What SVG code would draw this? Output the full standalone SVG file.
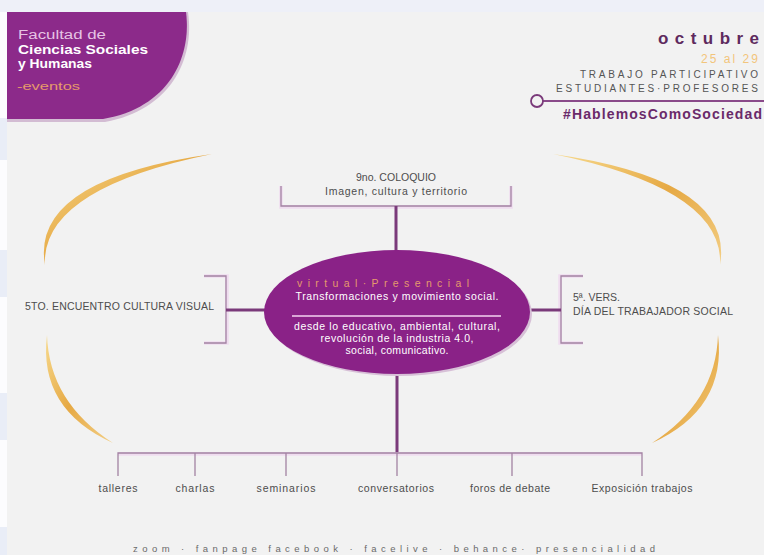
<svg xmlns="http://www.w3.org/2000/svg" width="764" height="555" viewBox="0 0 764 555">
<defs>
<style>
.lbl{font-family:"Liberation Sans",Arial,sans-serif;font-size:10.5px;fill:#4d4d4d}
.in{font-family:"Liberation Sans",Arial,sans-serif;font-size:10.5px;fill:#ffffff}
.stem{stroke:#7a3a7a;stroke-width:3;fill:none}
.glow{stroke:#efdcef;stroke-width:3.5;fill:none}
.br{stroke:#a283a2;stroke-width:1.3;fill:none}
.arc{fill:url(#gold)}
.hd{font-family:"Liberation Sans",Arial,sans-serif}
</style>
<linearGradient id="gold" x1="0" y1="0" x2="1" y2="1">
<stop offset="0" stop-color="#f7da8e"/>
<stop offset="0.5" stop-color="#e6a944"/>
<stop offset="1" stop-color="#f3cf86"/>
</linearGradient>
</defs>

<!-- background -->
<rect width="764" height="555" fill="#f2f2f2"/>
<rect width="764" height="12" fill="#eef0f8"/>
<rect x="0" y="12" width="7" height="543" fill="#fcfcfe"/>
<rect x="0" y="118" width="7" height="42" fill="#e9edf7"/>
<rect x="0" y="250" width="7" height="47" fill="#e9edf7"/>
<rect x="0" y="393" width="7" height="47" fill="#e9edf7"/>
<rect x="0" y="527" width="7" height="28" fill="#e9edf7"/>

<!-- header logo -->
<g id="logo">
<path d="M7,12 H188 C195,60 170,110 105,122 L7,122 Z" fill="#d3bcd3"/>
<path d="M7,12 H186 C192,58 168,108 103,119 L7,119 Z" fill="#8c2a8a"/>
<text class="hd" x="18" y="39" font-size="12" fill="#e6c3e4" textLength="88" lengthAdjust="spacingAndGlyphs">Facultad de</text>
<text class="hd" x="18" y="54" font-size="12" font-weight="bold" fill="#ffffff" textLength="130" lengthAdjust="spacingAndGlyphs">Ciencias Sociales</text>
<text class="hd" x="18" y="68" font-size="12" font-weight="bold" fill="#ffffff" textLength="74" lengthAdjust="spacingAndGlyphs">y Humanas</text>
<text class="hd" x="17" y="90" font-size="11" fill="#e59a6a" textLength="63" lengthAdjust="spacingAndGlyphs">-eventos</text>
</g>

<g id="header-right">
<text class="hd" x="658" y="44" font-size="17" font-weight="bold" fill="#5e2a5e" textLength="101">octubre</text>
<text class="hd" x="701" y="63" font-size="12" fill="#f2c57c" textLength="57">25 al 29</text>
<text class="hd" x="580" y="78" font-size="10" fill="#555555" textLength="178">TRABAJO PARTICIPATIVO</text>
<text class="hd" x="556" y="92" font-size="10" fill="#555555" textLength="202">ESTUDIANTES·PROFESORES</text>
<line x1="543" y1="101" x2="764" y2="101" stroke="#8a4a8a" stroke-width="1.8"/>
<circle cx="537" cy="101" r="6" fill="#f2f2f2" stroke="#7a3a7a" stroke-width="1.8"/>
<text class="hd" x="563" y="119" font-size="14" font-weight="bold" fill="#6a2a6a" textLength="199">#HablemosComoSociedad</text>
</g>

<!-- golden arcs -->
<g id="arcs">
<path class="arc" d="M212,154 Q30,180 45,265 Q41,189 212,154 Z"/>
<path class="arc" d="M47,335 Q38,409 113,443 Q49,402 47,335 Z"/>
<path class="arc" d="M553,154 Q735,180 720,265 Q724,189 553,154 Z"/>
<path class="arc" d="M718,335 Q727,409 652,443 Q716,402 718,335 Z"/>
</g>

<!-- connectors -->
<g id="connectors">
<path class="glow" d="M281,186 V207 H511 V186"/>
<path class="br" d="M281,186 V206 H511 V186"/>
<path class="stem" d="M396,206 V251"/>
<path class="glow" d="M204,276 H227 V343 H204"/>
<path class="br" d="M204,276 H226 V343 H204"/>
<path class="stem" d="M226,310 H266"/>
<path class="glow" d="M583,276 H560 V343 H583"/>
<path class="br" d="M583,276 H561 V343 H583"/>
<path class="stem" d="M529,310 H561"/>
<path class="stem" d="M397,374 V454"/>
<path class="glow" d="M118,454 H642"/>
<path class="br" d="M118,476 V453 H642 V476 M195,453 V476 M286,453 V476 M397,453 V476 M512,453 V476"/>
</g>

<!-- center node -->
<g id="center">
<ellipse cx="399" cy="314" rx="133" ry="62" fill="#d7c0d7"/>
<ellipse cx="397" cy="312" rx="133" ry="62" fill="#8a2287"/>
<text class="hd" x="297" y="287" font-size="10.5" fill="#e59a6c" textLength="172">virtual·Presencial</text>
<text class="in" x="397" y="300" text-anchor="middle" textLength="203">Transformaciones y movimiento social.</text>
<line x1="292" y1="316" x2="501" y2="316" stroke="#f3d3f1" stroke-width="1.6"/>
<text class="in" x="397" y="330" text-anchor="middle" textLength="206">desde lo educativo, ambiental, cultural,</text>
<text class="in" x="397" y="342" text-anchor="middle" textLength="153">revolución de la industria 4.0,</text>
<text class="in" x="397" y="354" text-anchor="middle" textLength="103">social, comunicativo.</text>
</g>

<g id="coloquio">
<text class="lbl" x="396" y="181" text-anchor="middle" textLength="80">9no. COLOQUIO</text>
<text class="lbl" x="396" y="195" text-anchor="middle" textLength="142">Imagen, cultura y territorio</text>
</g>

<g id="encuentro">
<text class="lbl" x="25" y="310" textLength="189">5TO. ENCUENTRO CULTURA VISUAL</text>
</g>

<g id="vers">
<text class="lbl" x="573" y="301" textLength="47">5ª. VERS.</text>
<text class="lbl" x="573" y="315" textLength="160">DÍA DEL TRABAJADOR SOCIAL</text>
</g>

<g id="talleres"><text class="lbl" x="118" y="492" text-anchor="middle" textLength="39">talleres</text></g>
<g id="charlas"><text class="lbl" x="195" y="492" text-anchor="middle" textLength="39">charlas</text></g>
<g id="seminarios"><text class="lbl" x="286" y="492" text-anchor="middle" textLength="59">seminarios</text></g>
<g id="conversatorios"><text class="lbl" x="396" y="492" text-anchor="middle" textLength="76">conversatorios</text></g>
<g id="foros"><text class="lbl" x="510" y="492" text-anchor="middle" textLength="80">foros de debate</text></g>
<g id="exposicion"><text class="lbl" x="642" y="492" text-anchor="middle" textLength="101">Exposición trabajos</text></g>

<g id="footer">
<text class="hd" x="133" y="552" font-size="9.5" fill="#6a6a6a" textLength="522">zoom · fanpage facebook · facelive · behance· presencialidad</text>
</g>
</svg>
